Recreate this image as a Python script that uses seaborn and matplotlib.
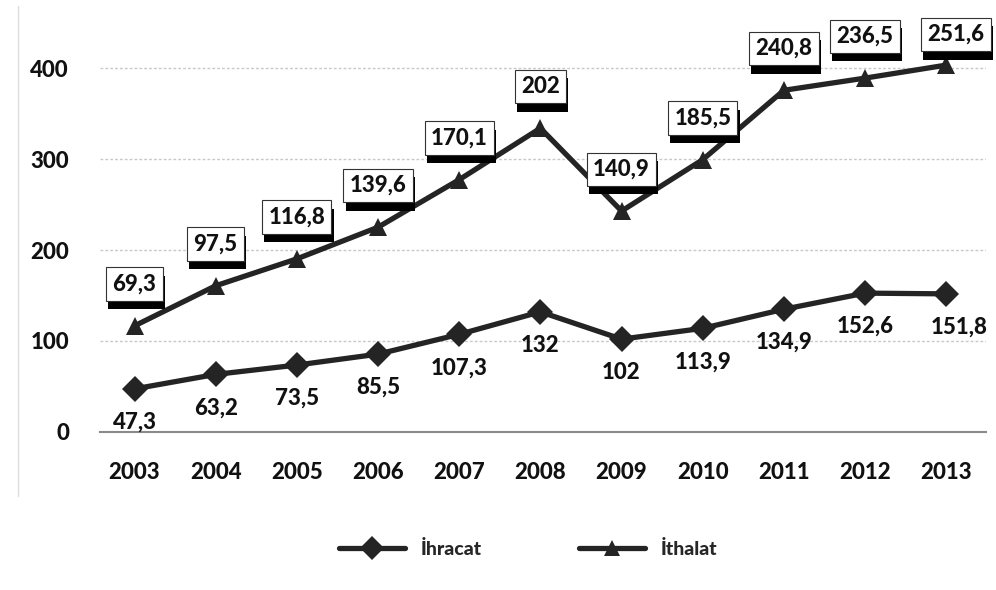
import numpy as np
import pandas as pd
import matplotlib
matplotlib.use("Agg")
import matplotlib.pyplot as plt
import matplotlib.patheffects as pe
from matplotlib.lines import Line2D
import seaborn as sns

years = [2003, 2004, 2005, 2006, 2007, 2008, 2009, 2010, 2011, 2012, 2013]
ihracat = [47.3, 63.2, 73.5, 85.5, 107.3, 132, 102, 113.9, 134.9, 152.6, 151.8]
ithalat = [69.3, 97.5, 116.8, 139.6, 170.1, 202, 140.9, 185.5, 240.8, 236.5, 251.6]
ihracat_labels = ["47,3", "63,2", "73,5", "85,5", "107,3", "132", "102", "113,9", "134,9", "152,6", "151,8"]
ithalat_labels = ["69,3", "97,5", "116,8", "139,6", "170,1", "202", "140,9", "185,5", "240,8", "236,5", "251,6"]
yticks = [0, 100, 200, 300, 400]

sns.set_theme(style="white")
plt.rcParams['font.family'] = ['Lato', 'DejaVu Sans']

# stacked line chart: İthalat drawn on top of İhracat
stack_ihr = np.array(ihracat)
stack_ith = stack_ihr + np.array(ithalat)
df = pd.DataFrame({
    "Yıl": years + years,
    "Değer": list(stack_ihr) + list(stack_ith),
    "Seri": ["İhracat"] * len(years) + ["İthalat"] * len(years),
})

fig = plt.figure(figsize=(9.96, 5.9), dpi=100)
ax = fig.add_axes([0.10, 0.268, 0.89, 0.732])

dark = "#242424"
W = "black"
sns.lineplot(data=df, x="Yıl", y="Değer", hue="Seri", style="Seri",
             palette={"İhracat": dark, "İthalat": dark},
             markers={"İhracat": "D", "İthalat": "^"}, dashes=False,
             linewidth=3.8, markersize=13, markeredgewidth=0,
             legend=False, ax=ax, zorder=3)

ax.set_xlim(2002.57, 2013.49)
ax.set_ylim(0, 475)
ax.set_yticks(yticks)
ax.set_yticklabels([str(v) for v in yticks], fontsize=16, fontweight=W, color="#111111")
ax.set_xticks(years)
ax.set_xticklabels([str(y) for y in years], fontsize=16, fontweight=W, color="#111111")
ax.tick_params(axis="y", length=0, pad=22)
ax.tick_params(axis="x", length=0, pad=22)
ax.set_xlabel("")
ax.set_ylabel("")
for s in ["top", "right", "left"]:
    ax.spines[s].set_visible(False)
ax.spines["bottom"].set_color("#8a8a8a")
ax.spines["bottom"].set_linewidth(1.5)
for v in yticks[1:]:
    ax.axhline(v, color="#c8c8c8", linestyle=(0, (2, 1.5)), linewidth=1.0, zorder=1)

# İhracat labels below points
for x, y, t in zip(years, stack_ihr, ihracat_labels):
    dx = 9 if x == 2013 else 0
    ax.annotate(t, (x, y), xytext=(dx, -24), textcoords="offset points",
                ha="center", va="center", fontsize=16, fontweight=W,
                color="#111111", zorder=5)

# İthalat labels in boxes with dark shadow above points
for x, y, t in zip(years, stack_ith, ithalat_labels):
    dy = 22 if x == 2013 else 30
    dx = 7 if x == 2013 else 0
    txt = ax.annotate(t, (x, y), xytext=(dx, dy), textcoords="offset points",
                      ha="center", va="center", fontsize=16, fontweight=W,
                      color="#111111", zorder=6,
                      bbox=dict(boxstyle="square,pad=0.28", fc="white", ec="#333333", lw=0.8))
    txt.get_bbox_patch().set_path_effects([
        pe.SimplePatchShadow(offset=(1.5, -6), shadow_rgbFace="black", alpha=1.0),
        pe.Normal()])

handles = [
    Line2D([0], [0], color=dark, lw=3.8, marker="D", markersize=12, markeredgewidth=0),
    Line2D([0], [0], color=dark, lw=3.8, marker="^", markersize=12, markeredgewidth=0),
]
leg = fig.legend(handles, ["İhracat", "İthalat"], loc="center", bbox_to_anchor=(0.53, 0.07),
                 ncol=2, frameon=False, handlelength=3.4, columnspacing=5.0,
                 prop={"family": "Lato", "weight": W, "size": 14})

fig.add_artist(Line2D([0.018, 0.018], [0.16, 0.99], color="#dddddd", lw=1.0))

fig.savefig("out.png", dpi=100, facecolor="white")
